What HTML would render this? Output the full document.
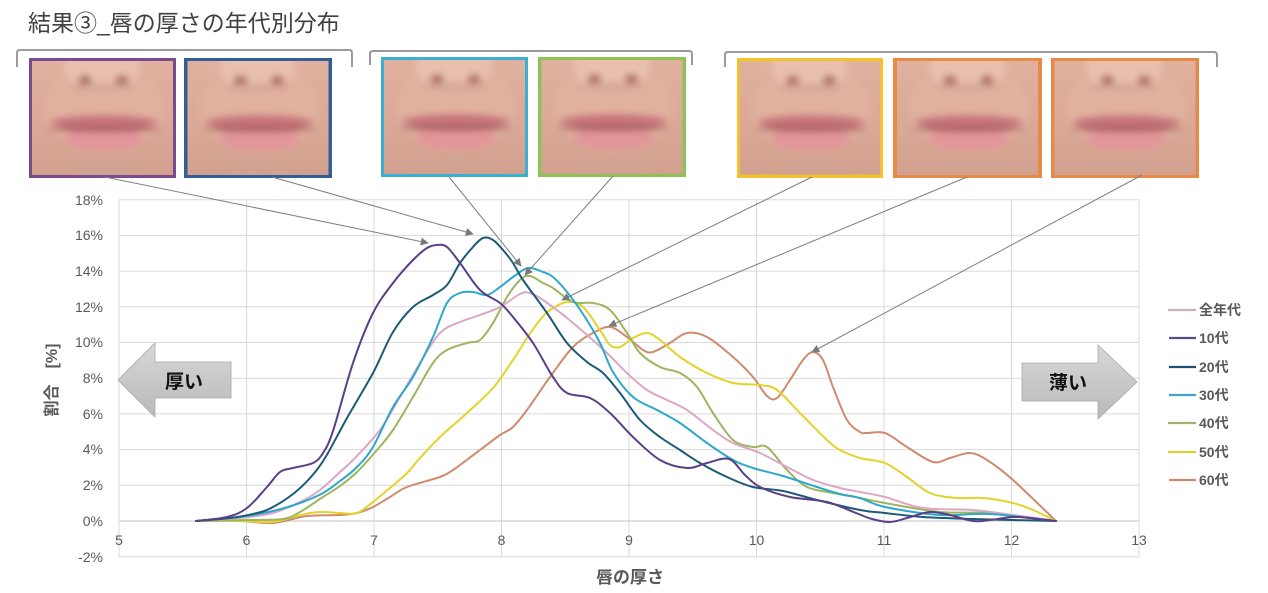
<!DOCTYPE html>
<html><head><meta charset="utf-8">
<style>
html,body{margin:0;padding:0;background:#fff;}
svg{display:block;}
text{font-family:"Liberation Sans","Noto Sans CJK JP",sans-serif;}
</style></head>
<body>
<svg id="chart" width="1268" height="593" viewBox="0 0 1268 593" xmlns="http://www.w3.org/2000/svg">
<defs>
  <filter id="bl" x="-20%" y="-20%" width="140%" height="140%"><feGaussianBlur stdDeviation="3.4"/></filter>
  <linearGradient id="skin" x1="0" y1="0" x2="0" y2="1">
    <stop offset="0" stop-color="#e0b1a0"/>
    <stop offset="0.6" stop-color="#daa896"/>
    <stop offset="1" stop-color="#d2a08f"/>
  </linearGradient>
  <symbol id="lips" viewBox="0 0 141 114">
    <rect width="141" height="114" fill="url(#skin)"/>
    <g filter="url(#bl)">
      <ellipse cx="72" cy="48" rx="60" ry="42" fill="#e2b3a2" opacity="0.7"/>
      <ellipse cx="70" cy="6" rx="38" ry="24" fill="#e9c0ae"/>
      <ellipse cx="70" cy="26" rx="34" ry="4" fill="#cf9c8c" opacity="0.7"/>
      <ellipse cx="53" cy="19" rx="7" ry="5" fill="#ad7466"/>
      <ellipse cx="90" cy="19" rx="7" ry="5" fill="#ad7466"/>
      <ellipse cx="72" cy="61" rx="54" ry="7" fill="#c87579"/>
      <ellipse cx="72" cy="78" rx="40" ry="11" fill="#e3959a"/>
      <ellipse cx="72" cy="68" rx="56" ry="3" fill="#a85e61"/>
      <ellipse cx="72" cy="106" rx="40" ry="10" fill="#d0a392" opacity="0.6"/>
    </g>
  </symbol>
  <marker id="ah" viewBox="0 0 10 10" refX="9" refY="5" markerWidth="9" markerHeight="8" orient="auto" markerUnits="userSpaceOnUse">
    <path d="M0,0 L10,5 L0,10 z" fill="#7a7a7a"/>
  </marker>
  <linearGradient id="arr" x1="0" y1="0" x2="0" y2="1">
    <stop offset="0" stop-color="#d8d8d8"/>
    <stop offset="1" stop-color="#b9b9b9"/>
  </linearGradient>
</defs>

<!-- Title -->
<text x="28" y="31" font-size="23" fill="#404040">結果③_唇の厚さの年代別分布</text>

<!-- Brackets -->
<g fill="none" stroke="#9a9a9a" stroke-width="2" stroke-linejoin="round">
  <path d="M17,67 L17,53 Q17,50 20,50 L349,50 Q352,50 352,53 L352,67"/>
  <path d="M370,65 L370,54 Q370,51 373,51 L689,51 Q692,51 692,54 L692,65"/>
  <path d="M725,67 L725,55 Q725,52 728,52 L1214,52 Q1217,52 1217,55 L1217,67"/>
</g>

<!-- Photos -->
<g>
  <rect x="29" y="58" width="147" height="120" fill="#7a4a8e"/>
  <use href="#lips" x="32" y="61" width="141" height="114"/>
  <rect x="184" y="58" width="148" height="120" fill="#2f5f94"/>
  <use href="#lips" x="187" y="61" width="142" height="114"/>
  <rect x="381" y="57" width="147" height="120" fill="#3cb0d2"/>
  <use href="#lips" x="384" y="60" width="141" height="114"/>
  <rect x="538" y="57" width="148" height="120" fill="#8fc256"/>
  <use href="#lips" x="541" y="60" width="142" height="114"/>
  <rect x="737" y="58" width="146" height="120" fill="#f2c12e"/>
  <use href="#lips" x="740" y="61" width="140" height="114"/>
  <rect x="893" y="58" width="149" height="120" fill="#e88a46"/>
  <use href="#lips" x="896" y="61" width="143" height="114"/>
  <rect x="1051" y="58" width="148" height="120" fill="#e88a46"/>
  <use href="#lips" x="1054" y="61" width="142" height="114"/>
</g>

<!-- Gridlines -->
<g stroke="#d9d9d9" stroke-width="1">
  <line x1="119" y1="199.7" x2="1139" y2="199.7"/>
  <line x1="119" y1="235.4" x2="1139" y2="235.4"/>
  <line x1="119" y1="271.1" x2="1139" y2="271.1"/>
  <line x1="119" y1="306.8" x2="1139" y2="306.8"/>
  <line x1="119" y1="342.5" x2="1139" y2="342.5"/>
  <line x1="119" y1="378.2" x2="1139" y2="378.2"/>
  <line x1="119" y1="413.9" x2="1139" y2="413.9"/>
  <line x1="119" y1="449.6" x2="1139" y2="449.6"/>
  <line x1="119" y1="485.3" x2="1139" y2="485.3"/>
  <line x1="119" y1="556.7" x2="1139" y2="556.7"/>
  <line x1="119" y1="199.7" x2="119" y2="556.7"/>
  <line x1="246.5" y1="199.7" x2="246.5" y2="556.7"/>
  <line x1="374" y1="199.7" x2="374" y2="556.7"/>
  <line x1="501.5" y1="199.7" x2="501.5" y2="556.7"/>
  <line x1="629" y1="199.7" x2="629" y2="556.7"/>
  <line x1="756.5" y1="199.7" x2="756.5" y2="556.7"/>
  <line x1="884" y1="199.7" x2="884" y2="556.7"/>
  <line x1="1011.5" y1="199.7" x2="1011.5" y2="556.7"/>
  <line x1="1139" y1="199.7" x2="1139" y2="556.7"/>
</g>
<line x1="119" y1="521" x2="1139" y2="521" stroke="#cfcfcf" stroke-width="1.2"/>

<!-- Y labels -->
<g font-size="14" fill="#595959" text-anchor="end">
  <text x="103" y="205">18%</text>
  <text x="103" y="240">16%</text>
  <text x="103" y="276">14%</text>
  <text x="103" y="312">12%</text>
  <text x="103" y="347">10%</text>
  <text x="103" y="383">8%</text>
  <text x="103" y="419">6%</text>
  <text x="103" y="454">4%</text>
  <text x="103" y="490">2%</text>
  <text x="103" y="526">0%</text>
  <text x="103" y="562">-2%</text>
</g>
<!-- X labels -->
<g font-size="14" fill="#595959" text-anchor="middle">
  <text x="119" y="545">5</text>
  <text x="246.5" y="545">6</text>
  <text x="374" y="545">7</text>
  <text x="501.5" y="545">8</text>
  <text x="629" y="545">9</text>
  <text x="756.5" y="545">10</text>
  <text x="884" y="545">11</text>
  <text x="1011.5" y="545">12</text>
  <text x="1139" y="545">13</text>
</g>

<!-- Axis titles -->
<text x="630" y="583" font-size="17" font-weight="bold" fill="#595959" text-anchor="middle">唇の厚さ</text>
<text transform="translate(57,380) rotate(-90)" font-size="16" font-weight="bold" fill="#595959" text-anchor="middle">割合　[%]</text>

<!-- Big arrows -->
<polygon points="118,380 155,343 155,362 231,362 231,398 155,398 155,417" fill="url(#arr)" stroke="#a8a8a8" stroke-width="0.8"/>
<text x="184" y="388" font-size="19" font-weight="bold" fill="#111" text-anchor="middle">厚い</text>
<polygon points="1022,363 1098,363 1098,345 1137,382 1098,419 1098,401 1022,401" fill="url(#arr)" stroke="#a8a8a8" stroke-width="0.8"/>
<text x="1068" y="389" font-size="19" font-weight="bold" fill="#111" text-anchor="middle">薄い</text>

<!-- Curves -->
<g id="curves" fill="none" stroke-width="2" stroke-linejoin="round" stroke-linecap="round">
  <!-- 60代 -->
  <polyline class="c" stroke="#cf8b6e" points="196,521 240,521 273,523 307,516 340,515 357,513 373,507 390,497 407,487 440,477 453,470 460,465 480,450 500,435 513,427 527,410 550,377 573,347 593,333 610,327 627,337 643,350 653,352 670,343 687,333 707,337 733,357 753,377 767,396 777,398 790,380 803,360 813,352 823,360 833,387 847,420 860,432 867,433 885,433 907,447 933,462 950,458 970,453 987,460 1013,480 1056,521"/>
  <!-- 50代 -->
  <polyline class="c" stroke="#e3d32a" points="196,521 240,521 273,522 293,517 310,513 323,512 340,513 357,513 373,502 390,488 407,473 420,458 440,437 467,413 493,388 513,360 527,338 540,320 550,310 567,302 583,307 600,330 610,345 620,347 633,338 647,333 660,340 680,357 707,373 733,383 760,385 777,390 800,413 827,440 840,450 860,458 885,463 907,477 930,493 957,498 983,498 1013,503 1033,510 1056,521"/>
  <!-- 40代 -->
  <polyline class="c" stroke="#9db55e" points="196,521 250,520 283,519 300,512 323,497 340,486 357,472 377,450 393,430 413,397 433,363 447,350 467,343 480,340 493,323 507,297 520,280 530,276 543,283 553,288 573,302 593,303 610,310 627,333 640,353 660,367 680,373 697,387 713,413 733,440 753,447 767,447 787,470 807,487 833,493 860,498 885,503 940,512 990,513 1056,521"/>
  <!-- 全年代 -->
  <polyline class="c" stroke="#dca7c6" points="196,521 240,518 273,513 300,502 320,490 340,472 353,460 380,430 400,397 420,363 440,333 460,322 480,315 500,307 520,294 530,293 543,300 567,318 587,335 607,353 627,373 647,390 667,400 687,410 713,430 733,443 760,453 787,467 813,480 840,488 860,492 885,497 923,508 973,510 1013,515 1056,521"/>
  <!-- 30代 -->
  <polyline class="c" stroke="#2ea8ca" points="196,521 240,517 273,511 300,503 323,493 340,481 357,467 373,447 393,407 413,377 433,337 447,303 460,293 473,292 487,295 500,287 513,277 528,268 543,272 553,277 567,292 583,314 600,343 613,372 633,397 657,410 680,423 707,443 733,460 753,468 783,476 817,487 840,494 860,498 885,507 940,515 990,514 1056,521"/>
  <!-- 20代 -->
  <polyline class="c" stroke="#1d5a78" points="196,521 230,518 257,513 273,507 293,494 310,478 325,458 347,418 373,373 393,332 413,307 433,295 447,285 460,263 473,247 483,238 493,240 503,250 513,263 523,280 547,313 567,343 587,362 603,373 620,393 640,420 660,437 680,450 700,463 727,477 753,487 783,491 817,500 860,510 885,513 923,517 973,519 1013,520 1056,521"/>
  <!-- 10代 -->
  <polyline class="c" stroke="#5b3f87" points="196,521 227,517 247,508 267,487 280,472 293,468 313,463 323,453 333,431 353,363 373,313 393,283 413,260 427,248 437,245 447,247 460,263 480,290 500,303 513,317 533,343 553,377 567,393 590,398 610,413 633,437 660,460 687,468 707,463 729,459 745,475 760,487 790,497 827,502 856,513 872,519 890,522 907,518 930,512 950,515 973,521 990,520 1013,517 1030,518 1056,521"/>
</g>

<!-- Leader arrows -->
<g stroke="#7f7f7f" stroke-width="1" marker-end="url(#ah)">
  <line x1="105" y1="177" x2="428" y2="243"/>
  <line x1="272" y1="177" x2="473" y2="234"/>
  <line x1="449" y1="177" x2="521" y2="266"/>
  <line x1="613" y1="176" x2="525" y2="275"/>
  <line x1="812" y1="177" x2="562" y2="300"/>
  <line x1="967" y1="177" x2="609" y2="326"/>
  <line x1="1142" y1="175" x2="812" y2="352"/>
</g>

<!-- Legend -->
<g stroke-width="2.2">
  <line x1="1168" y1="310" x2="1196" y2="310" stroke="#cdb0bf"/>
  <line x1="1169" y1="338" x2="1196" y2="338" stroke="#5b4a8c"/>
  <line x1="1169" y1="367" x2="1196" y2="367" stroke="#1f4e6e"/>
  <line x1="1169" y1="395" x2="1196" y2="395" stroke="#3ea5c9"/>
  <line x1="1168" y1="423" x2="1196" y2="423" stroke="#a6b06c"/>
  <line x1="1168" y1="452" x2="1196" y2="452" stroke="#d9d13a"/>
  <line x1="1169" y1="480" x2="1196" y2="480" stroke="#c98a6f"/>
</g>
<g font-size="14" fill="#595959" font-weight="bold">
  <text x="1199" y="315">全年代</text>
  <text x="1199" y="343">10代</text>
  <text x="1199" y="372">20代</text>
  <text x="1199" y="400">30代</text>
  <text x="1199" y="428">40代</text>
  <text x="1199" y="457">50代</text>
  <text x="1199" y="485">60代</text>
</g>
</svg>
<script>
(function(){
  var NS="http://www.w3.org/2000/svg";
  var pls=document.querySelectorAll("#curves polyline.c");
  for(var k=0;k<pls.length;k++){
    var pl=pls[k];
    var raw=pl.getAttribute("points").trim().split(/\s+/);
    var p=[];
    for(var i=0;i<raw.length;i++){var a=raw[i].split(",");p.push([+a[0],+a[1]]);}
    var t=0.5/3;
    var d="M"+p[0][0]+","+p[0][1];
    for(var i=0;i<p.length-1;i++){
      var p0=p[i>0?i-1:i],p1=p[i],p2=p[i+1],p3=p[i+2<p.length?i+2:i+1];
      var c1x=p1[0]+(p2[0]-p0[0])*t,c1y=p1[1]+(p2[1]-p0[1])*t;
      var c2x=p2[0]-(p3[0]-p1[0])*t,c2y=p2[1]-(p3[1]-p1[1])*t;
      d+=" C"+c1x.toFixed(1)+","+c1y.toFixed(1)+" "+c2x.toFixed(1)+","+c2y.toFixed(1)+" "+p2[0]+","+p2[1];
    }
    var path=document.createElementNS(NS,"path");
    path.setAttribute("d",d);
    path.setAttribute("stroke",pl.getAttribute("stroke"));
    pl.parentNode.replaceChild(path,pl);
  }
})();
</script>
</body></html>
